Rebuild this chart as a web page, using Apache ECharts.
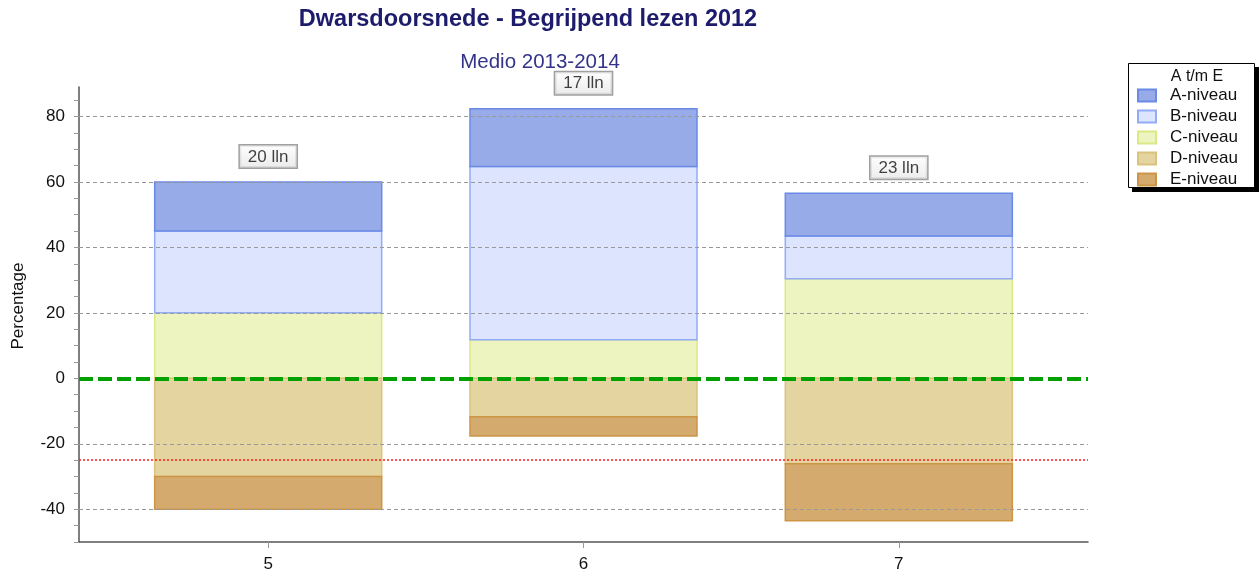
<!DOCTYPE html>
<html>
<head>
<meta charset="utf-8">
<script src="https://cdn.jsdelivr.net/npm/echarts@6/dist/echarts.min.js"></script>
<style>
  html, body { margin: 0; padding: 0; background: #fff; }
  #chart { width: 1260px; height: 573px; }
</style>
</head>
<body>
<div id="chart"></div>
<script>
// Leerjaren (x positions) and number of pupils per year
const groups = [5, 6, 7];
const pupils = [20, 17, 23];

// Share of pupils per level, in percent
const levelA = [15, 17.65, 13.04];
const levelB = [25, 52.94, 13.04];
const levelC = [20, 11.76, 30.43];
const levelD = [30, 11.76, 26.09];
const levelE = [10, 5.88, 17.39];

// Axis ticks / labels
const yLabelValues = [-40, -20, 0, 20, 40, 60, 80];
const yTickValues = [];
for (let v = -50; v <= 85; v += 5) yTickValues.push(v);
const gridValues = [-40, -20, 20, 40, 60, 80];
const norm = -25;

const FONT = "'Liberation Sans', Arial, sans-serif";

// Segment bounds: C, B, A stack upward from 0; D, E stack downward
function segments(sign, parts) {
  const out = parts.map(() => []);
  groups.forEach((g, i) => {
    let acc = 0;
    parts.forEach((arr, k) => {
      const next = acc + sign * arr[i];
      out[k].push([g, Math.min(acc, next), Math.max(acc, next)]);
      acc = next;
    });
  });
  return out;
}
const [segC, segB, segA] = segments(1, [levelC, levelB, levelA]);
const [segD, segE] = segments(-1, [levelD, levelE]);
const tops = groups.map((g, i) => [g, levelA[i] + levelB[i] + levelC[i]]);

const BAR_W = 0.72; // bar width in x-axis units

function renderBar(params, api) {
  const x = api.value(0), lo = api.value(1), hi = api.value(2);
  const pHi = api.coord([x, hi]);
  const pLo = api.coord([x, lo]);
  const w = api.size([BAR_W, 0])[0];
  return {
    type: 'rect',
    shape: { x: pHi[0] - w / 2, y: pHi[1], width: w, height: pLo[1] - pHi[1] },
    style: api.style()
  };
}

function barSeries(name, data, fill, stroke) {
  return {
    name: name,
    type: 'custom',
    renderItem: renderBar,
    data: data,
    encode: { x: 0, y: [1, 2] },
    z: 3,
    itemStyle: { color: fill, borderColor: stroke, borderWidth: 1.5 },
    silent: true
  };
}

const chart = echarts.init(document.getElementById('chart'));
chart.setOption({
  animation: false,
  backgroundColor: '#fff',
  grid: { left: 79, right: 172, top: 87, bottom: 30, containLabel: false },
  graphic: [
    { type: 'text', x: 528, y: 20, style: { text: 'Dwarsdoorsnede - Begrijpend lezen 2012', font: 'bold 23.5px ' + FONT, fill: '#1d1b6b', textAlign: 'center', textVerticalAlign: 'middle' } },
    { type: 'text', x: 540, y: 62, style: { text: 'Medio 2013-2014', font: '20.5px ' + FONT, fill: '#33338a', textAlign: 'center', textVerticalAlign: 'middle' } },
    { type: 'text', x: 18, y: 306, rotation: Math.PI / 2, style: { text: 'Percentage', font: '17px ' + FONT, fill: '#111', textAlign: 'center', textVerticalAlign: 'middle' } },
    // legend frame with hard drop shadow
    { type: 'rect', z: 1, shape: { x: 1132, y: 67, width: 127, height: 125 }, style: { fill: '#000' } },
    { type: 'rect', z: 2, shape: { x: 1128.5, y: 63.5, width: 126, height: 124 }, style: { fill: '#fff', stroke: '#000', lineWidth: 1 } },
    { type: 'text', x: 1197, y: 77, z: 3, style: { text: 'A t/m E', font: '16px ' + FONT, fill: '#111', textAlign: 'center', textVerticalAlign: 'middle' } }
  ],
  legend: {
    orient: 'vertical',
    left: 1128,
    top: 63,
    z: 10,
    padding: [24, 14, 3, 9],
    itemGap: 4,
    itemWidth: 18,
    itemHeight: 12,
    icon: 'rect',
    selectedMode: false,
    data: ['A-niveau', 'B-niveau', 'C-niveau', 'D-niveau', 'E-niveau'],
    textStyle: { fontFamily: FONT, fontSize: 17, color: '#111', padding: [0, 0, 0, 9] }
  },
  xAxis: {
    type: 'value',
    min: 4.4,
    max: 7.6,
    axisLine: { show: true, onZero: false, lineStyle: { color: '#555', width: 1.5 } },
    axisTick: { show: true, length: 6, customValues: groups, lineStyle: { color: '#999' } },
    axisLabel: { customValues: groups, margin: 14, fontFamily: FONT, fontSize: 17, color: '#111' },
    splitLine: { show: false }
  },
  yAxis: {
    type: 'value',
    min: -50,
    max: 89,
    axisLine: { show: true, lineStyle: { color: '#555', width: 1.5 } },
    axisTick: { show: true, length: 5, customValues: yTickValues, lineStyle: { color: '#999' } },
    axisLabel: { customValues: yLabelValues, margin: 14, fontFamily: FONT, fontSize: 17, color: '#111' },
    splitLine: { show: false }
  },
  series: [
    // dashed grid lines, behind the bars
    {
      name: 'grid', type: 'line', data: [], z: 1, silent: true,
      markLine: {
        silent: true, symbol: 'none', animation: false,
        label: { show: false },
        lineStyle: { color: '#999', type: [4, 3], width: 1 },
        data: gridValues.map(v => ({ yAxis: v }))
      }
    },
    barSeries('C-niveau', segC, '#edf4c0', '#dbe985'),
    barSeries('B-niveau', segB, '#dce5fd', '#92acf7'),
    barSeries('A-niveau', segA, '#97abe9', '#6a8ae6'),
    barSeries('D-niveau', segD, '#e4d4a0', '#dcc27f'),
    barSeries('E-niveau', segE, '#d4aa6e', '#cc9546'),
    // reference lines on top of the bars
    {
      name: 'ref', type: 'line', data: [], z: 10, silent: true,
      markLine: {
        silent: true, symbol: 'none', animation: false,
        label: { show: false },
        data: [
          { yAxis: 0, lineStyle: { color: '#00a000', width: 4, type: [14, 5] } },
          { yAxis: norm, lineStyle: { color: '#ff1a1a', width: 1.5, type: [2, 2] } }
        ]
      }
    },
    // pupil counts above each bar
    {
      name: 'count', type: 'scatter', data: tops, symbolSize: 1, z: 12, silent: true,
      itemStyle: { color: 'rgba(0,0,0,0)' },
      label: {
        show: true, position: 'top', distance: 14,
        formatter: p => pupils[p.dataIndex] + ' lln',
        fontFamily: FONT, fontSize: 17, color: '#111',
        backgroundColor: {
          type: 'linear', x: 0, y: 0, x2: 0, y2: 1,
          colorStops: [{ offset: 0, color: '#ffffff' }, { offset: 1, color: '#e6e6e6' }]
        },
        borderColor: '#888', borderWidth: 1.5, padding: [3, 8, 2, 8]
      }
    }
  ]
});
</script>
</body>
</html>
